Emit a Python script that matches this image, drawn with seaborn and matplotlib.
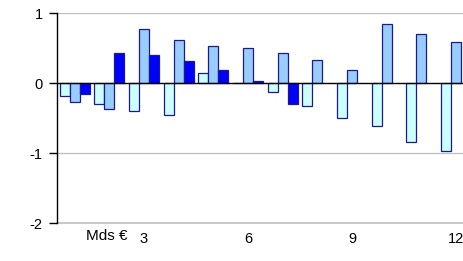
import numpy as np
import pandas as pd
import matplotlib
matplotlib.use("Agg")
import matplotlib.pyplot as plt
import seaborn as sns

months = [str(i) for i in range(1, 13)]
series_a = [-0.18, -0.30, -0.40, -0.45, 0.15, 0.01, -0.13, -0.33, -0.49, -0.61, -0.84, -0.96]
series_b = [-0.26, -0.36, 0.77, 0.62, 0.53, 0.50, 0.44, 0.33, 0.19, 0.85, 0.71, 0.59]
series_c = [-0.15, 0.44, 0.41, 0.32, 0.19, 0.03, -0.30, np.nan, np.nan, np.nan, np.nan, np.nan]
series_names = ["A", "B", "C"]
tick_positions_labels = ["3", "6", "9", "12"]
unit_label = "Mds €"

rows = []
for name, vals in zip(series_names, [series_a, series_b, series_c]):
    for m, v in zip(months, vals):
        rows.append({"month": m, "series": name, "value": v})
df = pd.DataFrame(rows)

sns.set_theme(style="white")
plt.rcParams["font.family"] = ["Liberation Sans", "DejaVu Sans"]

fig = plt.figure(figsize=(4.64, 2.61), dpi=100)
ax = fig.add_axes([57.3 / 464, 1 - 223.3 / 261, (473.4 - 57.3) / 464, (223.3 - 13.3) / 261])

palette = {"A": "#CCFFFF", "B": "#99CCFF", "C": "#0000FF"}
sns.barplot(data=df, x="month", y="value", hue="series", order=months,
            hue_order=series_names, palette=palette, width=0.865,
            edgecolor="#1a1a8c", linewidth=0.9, saturation=1, ax=ax, legend=False)

ax.set_xlim(-0.5, 11.5)
ax.set_ylim(-2, 1)
ax.set_yticks([-2, -1, 0, 1])
ax.set_yticklabels(["-2", "-1", "0", "1"])
ax.set_xticks([2, 5, 8, 11])
ax.set_xticklabels(tick_positions_labels)
ax.set_xlabel("")
ax.set_ylabel("")

for y in [1, -1]:
    ax.axhline(y, color="#BDBDBD", linewidth=0.9, zorder=0.5)
ax.axhline(-2, color="#BDBDBD", linewidth=1.2, zorder=0.5, clip_on=False)
ax.axhline(0, color="black", linewidth=1.0, zorder=3)

for s in ["top", "right", "bottom"]:
    ax.spines[s].set_visible(False)
ax.spines["left"].set_color("black")
ax.spines["left"].set_linewidth(1.0)
ax.spines["left"].set_zorder(4)

ax.tick_params(axis="y", which="both", left=True, length=5.5, width=1.0,
               color="black", pad=5, labelsize=10.5, labelcolor="black")
ax.tick_params(axis="x", which="both", bottom=False, length=0, pad=6,
               labelsize=10.5, labelcolor="black")

fig.text(128 / 464, 1 - 236 / 261, unit_label, ha="right", va="center",
         fontsize=11, color="black")

fig.savefig("out.png", dpi=100)
